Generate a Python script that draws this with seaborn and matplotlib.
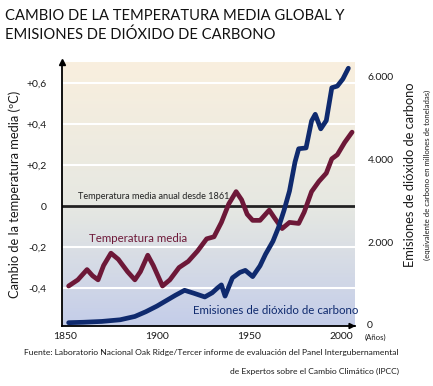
import matplotlib
matplotlib.use("Agg")
import matplotlib.pyplot as plt
import numpy as np
import pandas as pd
import seaborn as sns

# temperature anomaly (ºC)
temp_years = [1852, 1857, 1862, 1865, 1868, 1871, 1875, 1879, 1884, 1888, 1891, 1895,
              1898, 1903, 1907, 1912, 1917, 1922, 1927, 1931, 1935, 1939, 1943, 1946,
              1949, 1952, 1956, 1959, 1961, 1964, 1968, 1972, 1977, 1980, 1984, 1988,
              1992, 1995, 1998, 2002, 2006]
temp_vals = [-0.39, -0.36, -0.31, -0.34, -0.36, -0.29, -0.23, -0.26, -0.32, -0.36, -0.32, -0.24,
             -0.29, -0.39, -0.36, -0.30, -0.27, -0.22, -0.16, -0.15, -0.08, 0.01, 0.07, 0.03,
             -0.04, -0.07, -0.07, -0.04, -0.02, -0.06, -0.11, -0.08, -0.085, -0.03, 0.07, 0.12,
             0.16, 0.23, 0.25, 0.31, 0.36]

# CO2 emissions (millions of tonnes of carbon)
co2_years = [1852, 1860, 1870, 1880, 1888, 1894, 1900, 1905, 1910, 1915, 1920, 1926,
             1930, 1933, 1935, 1937, 1941, 1945, 1948, 1952, 1956, 1959, 1963, 1966,
             1969, 1972, 1975, 1977, 1981, 1984, 1986, 1989, 1992, 1995, 1998, 2001, 2004]
co2_vals = [80, 90, 110, 150, 230, 345, 480, 610, 740, 860, 790, 700,
            800, 920, 990, 720, 1160, 1290, 1340, 1190, 1450, 1730, 2040, 2370,
            2780, 3250, 3950, 4270, 4290, 4940, 5100, 4750, 4950, 5740, 5780, 5950, 6210]

temp_ticks = [-0.4, -0.2, 0, 0.2, 0.4, 0.6]
temp_labels = ["-0,4", "-0,2", "0", "+0,2", "+0,4", "+0,6"]
co2_ticks = [2000, 4000, 6000]
co2_labels = ["2.000", "4.000", "6.000"]
year_ticks = [1850, 1900, 1950, 2000]

df_t = pd.DataFrame({"year": temp_years, "temp": temp_vals})
df_c = pd.DataFrame({"year": co2_years, "co2": co2_vals})

sns.set_style("white")
plt.rcParams["font.family"] = ["Lato", "DejaVu Sans"]

RED = "#6d1838"
NAVY = "#0f2a6e"
TXT = "#1a1a1a"

W, H = 433, 386
fig = plt.figure(figsize=(W / 100, H / 100), dpi=100)
ax = fig.add_axes([62 / W, 60 / H, 293 / W, 264 / H])
ax2 = ax.twinx()

# background gradient
top = np.array([249, 239, 222]) / 255
mid = np.array([230, 232, 226]) / 255
bot = np.array([196, 205, 233]) / 255
t = np.linspace(0, 1, 200)[:, None]
grad = np.where(t < 0.55, top + (mid - top) * (t / 0.55), mid + (bot - mid) * ((t - 0.55) / 0.45))
ax.imshow(grad[:, None, :].repeat(2, axis=1), extent=[0, 1, 0, 1], transform=ax.transAxes,
          aspect="auto", zorder=-2)

ax.set_xlim(1848.4, 2007.6)
ax.set_ylim(-0.585, 0.702)
ax2.set_ylim(0, 6360)

ax.set_yticks(temp_ticks, temp_labels)
ax.set_xticks(year_ticks, [str(y) for y in year_ticks])
ax2.set_yticks(co2_ticks, co2_labels)

ax.grid(axis="y", color="white", lw=1.5)
ax.grid(axis="x", visible=False)
ax.set_axisbelow(True)
ax.axhline(0, color="#222222", lw=2, zorder=1)

sns.lineplot(df_t, x="year", y="temp", ax=ax, color=RED, lw=3.4,
             solid_joinstyle="round", solid_capstyle="round", zorder=3)
sns.lineplot(df_c, x="year", y="co2", ax=ax2, color=NAVY, lw=3.4,
             solid_joinstyle="round", solid_capstyle="round", zorder=3)

ax.set_xlabel("")
ax.set_ylabel("")
ax2.set_xlabel("")
ax2.set_ylabel("")

for a in (ax, ax2):
    for s in ("top", "right"):
        a.spines[s].set_visible(False)
ax2.spines["left"].set_visible(False)
ax2.spines["bottom"].set_visible(False)
ax.spines["left"].set_color("black")
ax.spines["bottom"].set_color("black")
ax.spines["left"].set_linewidth(1.3)
ax.spines["bottom"].set_linewidth(1.3)

ax.tick_params(axis="y", length=0, pad=11, labelsize=7.5, labelcolor=TXT)
ax.tick_params(axis="x", length=0, pad=4, labelsize=7.5, labelcolor=TXT)
ax2.tick_params(axis="y", length=0, pad=9, labelsize=7.5, labelcolor=TXT)
for lab in ax2.get_yticklabels():
    lab.set_horizontalalignment("left")

# arrow heads on the axes
ax.plot(0, 1.0, marker="^", color="k", ms=5, transform=ax.transAxes, clip_on=False, zorder=5)
ax.annotate("", xy=(1.012, 0), xytext=(0.98, 0), xycoords="axes fraction",
            arrowprops=dict(arrowstyle="-|>", color="k", lw=1.3, mutation_scale=8))

ax.text(1857, 0.045, "Temperatura media anual desde 1861", fontsize=6.6, color="#222222",
        va="center", ha="left")
ax.text(1863, -0.16, "Temperatura media", fontsize=8.3, color=RED, va="center", ha="left")
ax.text(1919.6, -0.507, "Emisiones de dióxido de carbono", fontsize=8.3, color=NAVY,
        va="center", ha="left")

fig.text(367 / W, 1 - 325 / H, "0", fontsize=7.5, color=TXT, va="center", ha="left")
fig.text(365 / W, 1 - 337 / H, "(Años)", fontsize=5.6, color=TXT, va="center", ha="left")

fig.text(5 / W, 1 - 20 / H, "CAMBIO DE LA TEMPERATURA MEDIA GLOBAL Y", fontsize=10.6,
         va="baseline", ha="left", color="#111111")
fig.text(5 / W, 1 - 39 / H, "EMISIONES DE DIÓXIDO DE CARBONO", fontsize=10.6,
         va="baseline", ha="left", color="#111111")

fig.text(15 / W, 1 - 194 / H, "Cambio de la temperatura media (ºC)", rotation=90,
         fontsize=9.3, va="center", ha="center", color=TXT)
fig.text(410 / W, 1 - 175 / H, "Emisiones de dióxido de carbono", rotation=90,
         fontsize=9.3, va="center", ha="center", color=TXT)
fig.text(427 / W, 1 - 175 / H, "(equivalente de carbono en millones de toneladas)", rotation=90,
         fontsize=5.6, va="center", ha="center", color=TXT)

fig.text(399 / W, 1 - 353 / H,
         "Fuente: Laboratorio Nacional Oak Ridge/Tercer informe de evaluación del Panel Intergubernamental",
         fontsize=6.1, va="center", ha="right", color=TXT)
fig.text(399 / W, 1 - 371 / H, "de Expertos sobre el Cambio Climático (IPCC)",
         fontsize=6.1, va="center", ha="right", color=TXT)

fig.savefig("out.png", dpi=100)
